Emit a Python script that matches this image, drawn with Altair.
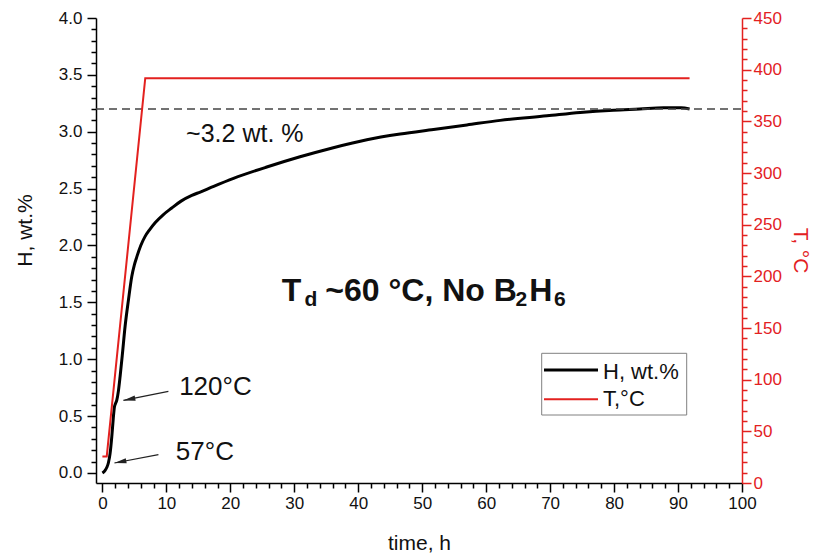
import altair as alt
import pandas as pd

# ---------------- data ----------------
t_h = [0.0, 0.4, 0.7, 0.94, 1.2, 1.47, 1.7, 1.88, 2.05, 2.25, 2.5, 2.77, 3.1,
       3.55, 4.07, 4.6, 5.0, 5.38, 6.0, 6.68, 7.4, 8.24, 9.5, 10.85, 12.3,
       13.98, 15.3, 17.4, 20.5, 25.7, 30.9, 36.1, 41.35, 46.56, 51.77, 56.99,
       62.2, 69.5, 74.7, 79.9, 84.0, 87.7, 90.5, 91.8]
h_wt = [0.0, 0.02, 0.05, 0.09, 0.17, 0.32, 0.48, 0.58, 0.61, 0.64, 0.72, 0.85,
        1.03, 1.29, 1.52, 1.73, 1.83, 1.90, 2.00, 2.08, 2.14, 2.20, 2.27, 2.33,
        2.39, 2.44, 2.47, 2.52, 2.59, 2.69, 2.78, 2.86, 2.93, 2.98, 3.02, 3.06,
        3.10, 3.14, 3.17, 3.19, 3.20, 3.21, 3.21, 3.20]
t_T = [0.0, 0.68, 6.7, 91.8]
T_C = [25.7, 25.7, 391.7, 391.7]

x_ticks = list(range(0, 101, 2))
y_left_ticks = [round(i * 0.1, 1) for i in range(41)]
y_right_ticks = list(range(0, 451, 10))
plateau = 3.2

series_names = ["H, wt.%", "T,°C"]

RED = "#e3211f"
INK = "#111111"
FONT = "Liberation Sans"

h_df = pd.DataFrame({"t": t_h, "H": h_wt})
T_df = pd.DataFrame({"t": t_T, "T": T_C})
one = pd.DataFrame({"k": [0]})

# ---------------- scales & axes ----------------
xs = alt.Scale(domain=[-1, 100], nice=False, zero=False)
ys = alt.Scale(domain=[-0.088, 4.0], nice=False, zero=False)
ts = alt.Scale(domain=[0, 450], nice=False, zero=False)

x_major = "datum.value % 10 === 0"
yl_major = "abs(datum.value * 2 - round(datum.value * 2)) < 0.001"
yr_major = "datum.value % 50 === 0"

xa = alt.Axis(
    values=x_ticks, grid=False, orient="bottom",
    domainColor="black", domainWidth=1.5,
    tickColor="black", tickWidth=1.5,
    tickSize={"condition": {"test": x_major, "value": 9}, "value": 5},
    labelExpr=f"{x_major} ? format(datum.value, 'd') : ''",
    labelFont=FONT, labelFontSize=17, labelColor=INK, labelPadding=3,
    labelFlush=False, labelOverlap=False,
    title="time, h", titleFont=FONT, titleFontSize=21, titleFontWeight="normal",
    titleColor=INK, titleX=323, titleY=60, titleAlign="center", titleBaseline="middle",
)
ya = alt.Axis(
    values=y_left_ticks, grid=False, orient="left",
    domainColor="black", domainWidth=1.5,
    tickColor="black", tickWidth=1.5,
    tickSize={"condition": {"test": yl_major, "value": 9}, "value": 5},
    labelExpr=f"{yl_major} ? format(datum.value, '.1f') : ''",
    labelFont=FONT, labelFontSize=17, labelColor=INK, labelPadding=5,
    labelOverlap=False,
    title="H, wt.%", titleFont=FONT, titleFontSize=21, titleFontWeight="normal",
    titleColor=INK, titleAngle=-90, titleX=-71, titleY=212,
    titleAlign="center", titleBaseline="middle",
)
ta = alt.Axis(
    values=y_right_ticks, grid=False, orient="right",
    domainColor=RED, domainWidth=1.5,
    tickColor=RED, tickWidth=1.5,
    tickSize={"condition": {"test": yr_major, "value": 9}, "value": 5},
    labelExpr=f"{yr_major} ? format(datum.value, 'd') : ''",
    labelFont=FONT, labelFontSize=17, labelColor=RED, labelPadding=2,
    labelOverlap=False,
    title="T, °C", titleFont=FONT, titleFontSize=21, titleFontWeight="normal",
    titleColor=RED, titleAngle=90, titleX=57, titleY=232,
    titleAlign="center", titleBaseline="middle",
)


def X(v):
    return alt.XDatum(v, type="quantitative", scale=xs, axis=xa)


def Y(v):
    return alt.YDatum(v, type="quantitative", scale=ys, axis=ya)


# ---------------- data layers ----------------
h_line = alt.Chart(h_df).mark_line(color="black", strokeWidth=3, interpolate="monotone").encode(
    x=alt.X("t:Q", scale=xs, axis=xa),
    y=alt.Y("H:Q", scale=ys, axis=ya),
)
t_line = alt.Chart(T_df).mark_line(color=RED, strokeWidth=2).encode(
    x=alt.X("t:Q", scale=xs, axis=xa),
    y=alt.Y("T:Q", scale=ts, axis=ta),
)

dash = alt.Chart(one).mark_rule(color="#444444", strokeWidth=1.5, strokeDash=[8, 5]).encode(
    x=X(-1), x2=alt.X2Datum(100), y=Y(plateau)
)


def note(text, t, h, size, weight="normal"):
    return alt.Chart(one).mark_text(
        text=text, font=FONT, fontSize=size, fontWeight=weight,
        align="left", baseline="alphabetic", color=INK,
    ).encode(x=X(t), y=Y(h))


ARROW = "M0,0L0.22,1L-0.22,1Z"


def arrow(t1, h1, t2, h2, ang):
    line = alt.Chart(one).mark_rule(color="#222222", strokeWidth=1.2).encode(
        x=X(t1), x2=alt.X2Datum(t2), y=Y(h1), y2=alt.Y2Datum(h2)
    )
    head = alt.Chart(one).mark_point(
        shape=ARROW, size=576, angle=ang, filled=True, color="#222222", opacity=1, strokeWidth=0
    ).encode(x=X(t2), y=Y(h2))
    return line + head


notes = [
    note("~3.2 wt. %", 13.09, 2.914, 25),
    note("120°C", 12.0, 0.688, 26),
    note("57°C", 11.48, 0.111, 26),
    note("T", 28.06, 1.508, 32, "bold"),
    note("d", 31.6, 1.464, 21, "bold"),
    note("~60 °C, No B", 34.85, 1.508, 32, "bold"),
    note("2", 64.6, 1.464, 21, "bold"),
    note("H", 66.75, 1.508, 32, "bold"),
    note("6", 70.6, 1.464, 21, "bold"),
]

arrows = [
    arrow(10.32, 0.717, 3.28, 0.638, 258.7),
    arrow(8.76, 0.161, 1.88, 0.088, 259.3),
]

# ---------------- legend (box inside plot) ----------------
leg_box = alt.Chart(one).mark_rect(fill="white", stroke="#808080", strokeWidth=1).encode(
    x=alt.value(445.7), x2=alt.value(590.7), y=alt.value(335.3), y2=alt.value(397)
)
leg_h = alt.Chart(one).mark_rule(color="black", strokeWidth=3).encode(
    x=alt.value(448), x2=alt.value(502), y=alt.value(352)
)
leg_t = alt.Chart(one).mark_rule(color=RED, strokeWidth=2).encode(
    x=alt.value(448), x2=alt.value(502), y=alt.value(381.3)
)
leg_h_txt = alt.Chart(one).mark_text(
    text=series_names[0], font=FONT, fontSize=22, align="left", baseline="middle", color=INK
).encode(x=alt.value(507), y=alt.value(353.5))
leg_t_txt = alt.Chart(one).mark_text(
    text=series_names[1], font=FONT, fontSize=22, align="left", baseline="middle", color=INK
).encode(x=alt.value(507), y=alt.value(381))

left_group = alt.layer(
    h_line, dash, *notes, *arrows, leg_box, leg_h, leg_t, leg_h_txt, leg_t_txt
)

chart = (
    alt.layer(left_group, t_line)
    .resolve_scale(y="independent")
    .properties(
        width=646, height=465,
        padding={"left": 96, "top": 18, "right": 75, "bottom": 70},
        autosize=alt.AutoSizeParams(type="none"),
        background="white",
    )
    .configure_view(strokeWidth=0)
)

chart.save("out.html", embed_options={"renderer": "svg", "actions": False})
